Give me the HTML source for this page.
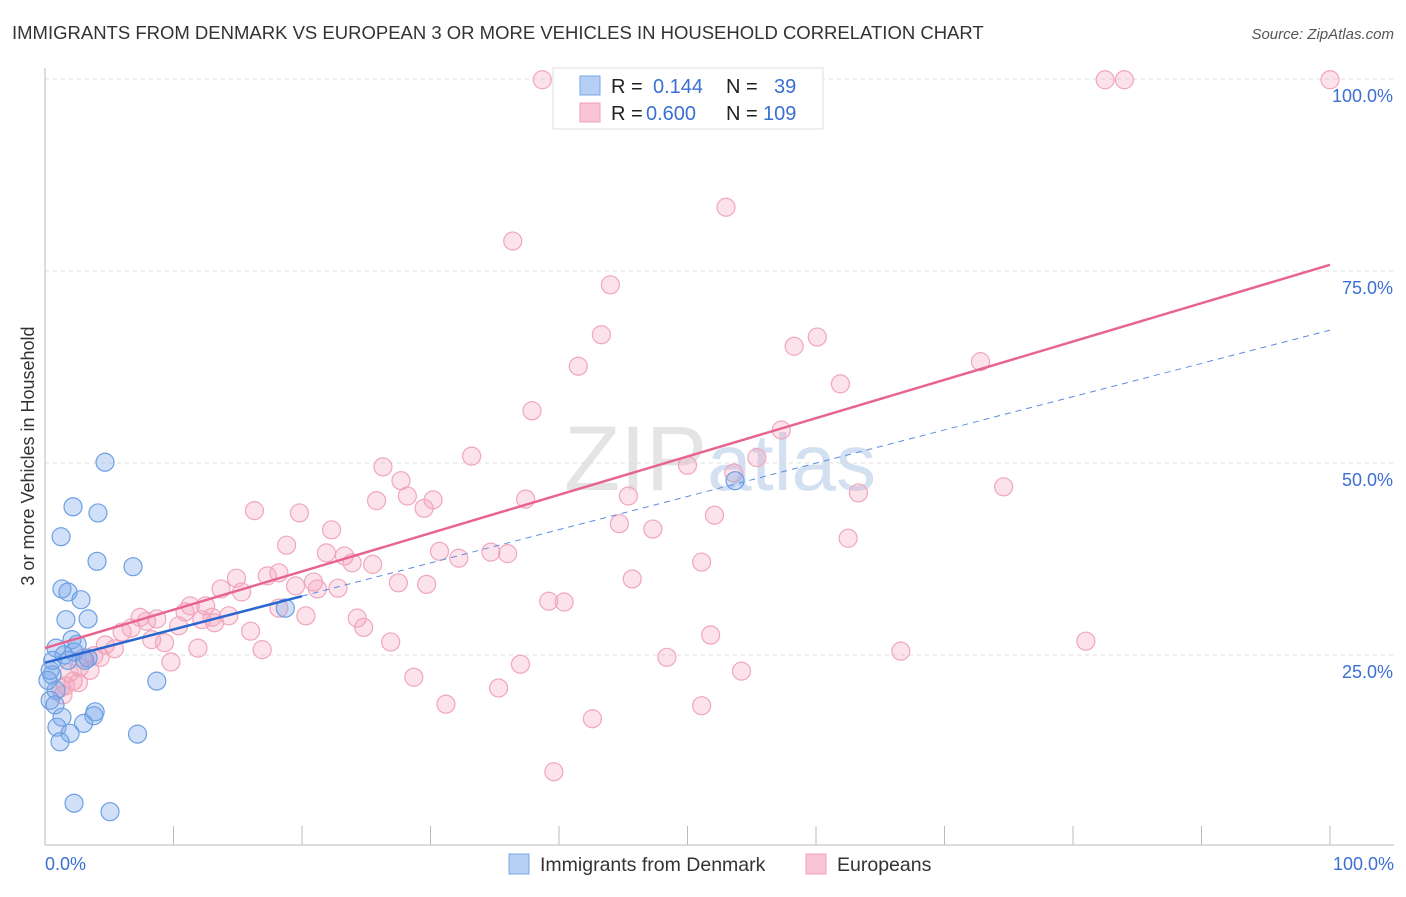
<!DOCTYPE html>
<html><head><meta charset="utf-8"><style>
body{margin:0;background:#fff;font-family:"Liberation Sans",sans-serif;}
svg text{font-family:"Liberation Sans",sans-serif;}
</style></head><body>
<svg id="chart" width="1406" height="892" xmlns="http://www.w3.org/2000/svg">
<text x="12" y="39" font-size="18.5" fill="#333">IMMIGRANTS FROM DENMARK VS EUROPEAN 3 OR MORE VEHICLES IN HOUSEHOLD CORRELATION CHART</text>
<text x="1394" y="39" font-size="15" fill="#555" font-style="italic" text-anchor="end">Source: ZipAtlas.com</text>
<text transform="translate(34,456) rotate(-90)" font-size="18" fill="#333" text-anchor="middle">3 or more Vehicles in Household</text>
<text x="720" y="490" font-size="92" fill="#e4e4e4" text-anchor="middle" font-family="Liberation Serif,serif">ZIP<tspan fill="#d2e0f2" font-family="Liberation Sans,sans-serif" font-size="80">atlas</tspan></text>
<g id="grid"></g><g id="axes"></g><g id="pts"></g><g id="lines"></g>
<g>
<rect x="553" y="68" width="270" height="61" fill="#fff" stroke="#ddd"/>
<rect x="580" y="76" width="20" height="19" fill="#b5d0f4" stroke="#7aa6e4"/>
<rect x="580" y="103" width="20" height="19" fill="#f9c5d4" stroke="#efa0b8"/>
<text x="611" y="93" font-size="20" fill="#222">R =</text><text x="653" y="93" font-size="20" fill="#3b6fd4">0.144</text>
<text x="726" y="93" font-size="20" fill="#222">N =</text><text x="774" y="93" font-size="20" fill="#3b6fd4">39</text>
<text x="611" y="120" font-size="20" fill="#222">R =</text><text x="646" y="120" font-size="20" fill="#3b6fd4">0.600</text>
<text x="726" y="120" font-size="20" fill="#222">N =</text><text x="763" y="120" font-size="20" fill="#3b6fd4">109</text>
</g>
<g>
<rect x="509" y="854" width="20" height="20" fill="#b5d0f4" stroke="#7aa6e4"/>
<text x="540" y="871" font-size="19.5" fill="#333">Immigrants from Denmark</text>
<rect x="806" y="854" width="20" height="20" fill="#f9c5d4" stroke="#efa0b8"/>
<text x="837" y="871" font-size="19.5" fill="#333">Europeans</text>
</g>
</svg>
<script>
const yTicks=[25,50,75,100];
const yTickLabels=["25.0%","50.0%","75.0%","100.0%"];
const xTickVals=[0,10,20,30,40,50,60,70,80,90,100];
const blueX=[4.67,2.18,4.12,1.25,4.05,6.85,1.32,1.79,2.8,3.35,1.63,2.1,2.5,0.86,1.48,2.26,1.79,3.1,3.35,8.7,0.55,0.86,0.23,0.4,0.78,1.32,3.9,3.8,3.0,0.93,1.95,1.17,7.2,2.26,5.06,18.7,53.7,0.4,0.6];
const blueY=[50.1,44.3,43.5,40.4,37.2,36.5,33.6,33.2,32.2,29.7,29.6,27.0,26.4,25.9,25.0,25.4,24.3,24.3,24.6,21.6,22.4,20.4,21.7,19.1,18.5,16.9,17.6,17.1,16.1,15.6,14.8,13.7,14.7,5.7,4.6,31.1,47.7,23.0,24.3];
const pinkX=[38.7,82.5,84.0,100,53.0,36.4,44.0,43.3,60.1,58.3,41.5,61.9,72.8,37.9,57.3,33.2,50.0,55.4,53.6,26.3,27.7,28.2,25.8,30.2,29.5,37.4,45.4,63.3,74.6,16.3,19.8,52.1,44.7,47.3,22.3,62.5,18.8,30.7,32.2,21.9,23.3,23.9,25.5,34.7,36.0,51.1,14.9,17.3,18.2,13.7,19.5,20.9,21.2,22.8,27.5,29.7,45.7,15.3,12.5,11.3,10.9,7.4,8.7,13.0,14.3,12.2,7.9,10.4,6.7,13.2,20.3,18.2,24.3,24.8,16.0,6.0,8.3,9.3,26.9,51.8,4.7,5.4,11.9,16.9,3.8,3.0,4.3,9.8,48.4,66.6,81.0,37.0,54.2,2.7,1.9,2.2,2.6,1.2,1.6,28.7,35.3,31.2,51.1,42.6,39.6,39.2,40.4,1.4,3.5];
const pinkY=[99.9,99.9,99.9,99.9,83.3,78.9,73.2,66.7,66.4,65.2,62.6,60.3,63.2,56.8,54.3,50.9,49.7,50.7,48.7,49.5,47.7,45.7,45.1,45.2,44.1,45.3,45.7,46.1,46.9,43.8,43.5,43.2,42.1,41.4,41.3,40.2,39.3,38.5,37.6,38.3,37.9,37.0,36.8,38.4,38.2,37.1,35.0,35.3,35.7,33.6,34.0,34.5,33.6,33.7,34.4,34.2,34.9,33.2,31.4,31.4,30.6,29.9,29.7,29.9,30.1,29.6,29.4,28.8,28.5,29.2,30.1,31.1,29.8,28.6,28.1,28.0,27.0,26.6,26.7,27.6,26.3,25.8,25.9,25.7,24.9,24.6,24.7,24.1,24.7,25.5,26.8,23.8,22.9,23.4,22.7,21.6,21.4,20.7,21.0,22.1,20.7,18.6,18.4,16.7,9.8,32.0,31.9,19.8,23.0];
const pinkTrend=[25.9,75.8];
const blueTrend=[24.0,67.3];
const blueSolidEnd=20;
const NS="http://www.w3.org/2000/svg";
const X=v=>45+v*12.85, Y=v=>847-v*7.68;
function mk(t,a,p){const e=document.createElementNS(NS,t);for(const k in a)e.setAttribute(k,a[k]);p.appendChild(e);return e;}
const grid=document.getElementById('grid'),axes=document.getElementById('axes'),pts=document.getElementById('pts'),lines=document.getElementById('lines');
yTicks.forEach((v,i)=>{
 const l=mk('line',{x1:45,x2:1394,y1:Y(v),y2:Y(v),stroke:'#ddd','stroke-dasharray':'4,4'},grid);
 
 
 const t=mk('text',{x:1393,y:Y(v)+23,'font-size':18,fill:'#3b6fd4','text-anchor':'end'},grid);
 t.textContent=yTickLabels[i];
 
 
});
let a=mk('line',{x1:45,x2:45,y1:68,y2:845,stroke:'#bbb'},axes);


a=mk('line',{x1:45,x2:1394,y1:845,y2:845,stroke:'#bbb'},axes);


xTickVals.forEach(v=>{const t=mk('line',{x1:X(v),x2:X(v),y1:826,y2:845,stroke:'#bbb'},axes);
 
 });
let t=mk('text',{x:45,y:870,'font-size':18,fill:'#3b6fd4'},axes);t.textContent='0.0%';


t=mk('text',{x:1394,y:870,'font-size':18,fill:'#3b6fd4','text-anchor':'end'},axes);t.textContent='100.0%';


pinkX.forEach((x,i)=>{const c=mk('circle',{cx:X(x),cy:Y(pinkY[i]),r:9,fill:'rgba(244,160,186,0.3)',stroke:'#f0a6bd','stroke-width':1.2},pts);
 
 });
blueX.forEach((x,i)=>{const c=mk('circle',{cx:X(x),cy:Y(blueY[i]),r:9,fill:'rgba(120,165,235,0.35)',stroke:'#6d9fe2','stroke-width':1.2},pts);
 
 });
const bAt=x=>blueTrend[0]+(blueTrend[1]-blueTrend[0])*x/100;
let l=mk('line',{x1:X(blueSolidEnd),y1:Y(bAt(blueSolidEnd)),x2:X(100),y2:Y(blueTrend[1]),stroke:'#5a8ee0','stroke-width':1,'stroke-dasharray':'6,5'},lines);


l=mk('line',{x1:X(0),y1:Y(blueTrend[0]),x2:X(blueSolidEnd),y2:Y(bAt(blueSolidEnd)),stroke:'#2a66d0','stroke-width':2.5},lines);


l=mk('line',{x1:X(0),y1:Y(pinkTrend[0]),x2:X(100),y2:Y(pinkTrend[1]),stroke:'#e8648e','stroke-width':2.5},lines);


</script>
</body></html>
